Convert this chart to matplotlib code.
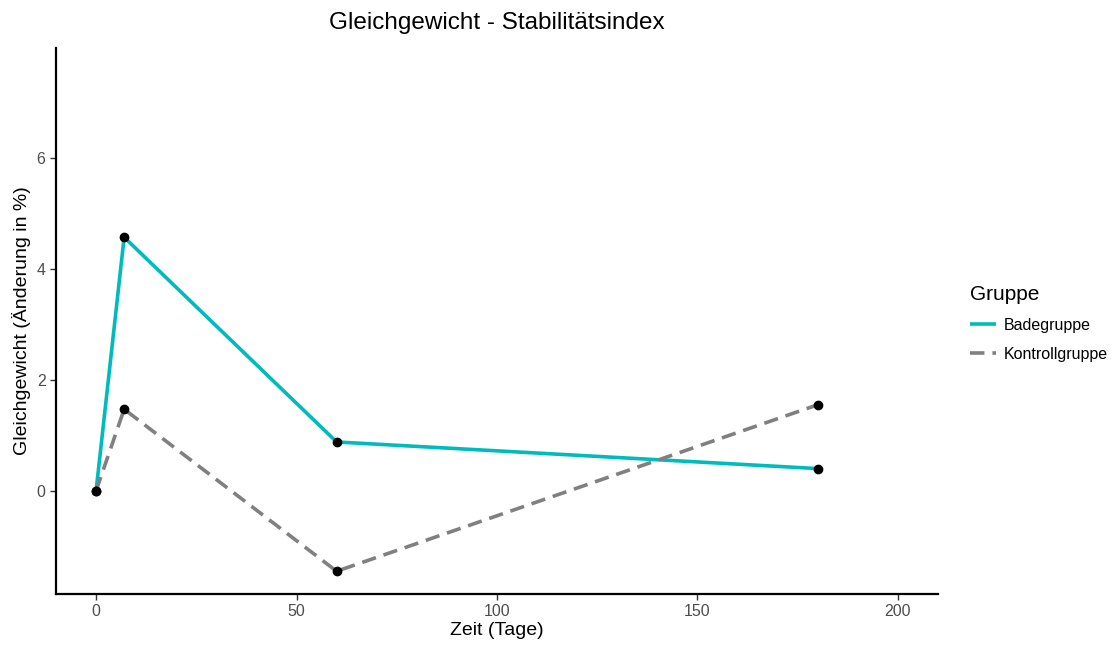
import matplotlib
matplotlib.use("Agg")
import matplotlib.pyplot as plt

plt.rcParams['font.family'] = ['Liberation Sans', 'DejaVu Sans']

days = [0, 7, 60, 180]
bade = [0.0, 4.57, 0.88, 0.40]
kontroll = [0.0, 1.47, -1.45, 1.55]
groups = ["Badegruppe", "Kontrollgruppe"]
xticks = [0, 50, 100, 150, 200]
yticks = [0, 2, 4, 6]

W, H = 1117, 648
fig = plt.figure(figsize=(W / 100, H / 100), dpi=100)
ax = fig.add_axes([56 / W, 1 - 594 / H, (938 - 56) / W, (594 - 48) / H])

ax.plot(days, bade, color="#00BBBB", lw=2.6, solid_capstyle="butt", label=groups[0])
ax.plot(days, kontroll, color="#808080", lw=2.6, ls=(0, (4, 2.2)), label=groups[1])
ax.scatter(days, bade, color="black", s=36, zorder=5)
ax.scatter(days, kontroll, color="black", s=36, zorder=5)

ax.set_xlim(-10, 210)
ax.set_ylim(-1.86, 7.98)
ax.set_xticks(xticks)
ax.set_yticks(yticks)
for s in ["top", "right"]:
    ax.spines[s].set_visible(False)
for s in ["left", "bottom"]:
    ax.spines[s].set_linewidth(1.6)
ax.tick_params(colors="#333333", labelsize=11.5, length=4, width=1)
for lab in ax.get_xticklabels() + ax.get_yticklabels():
    lab.set_color("#4D4D4D")

ax.set_xlabel("Zeit (Tage)", fontsize=14, labelpad=2)
ax.set_ylabel("Gleichgewicht (Änderung in %)", fontsize=14, labelpad=4)
fig.suptitle("Gleichgewicht - Stabilitätsindex", x=(56 + 938) / 2 / W, y=1 - 12 / H, fontsize=17.5, va="top")

leg = fig.legend(handles=ax.get_lines(), labels=groups, title="Gruppe",
                 loc="upper left", bbox_to_anchor=(956 / W, 1 - 271 / H),
                 frameon=False, fontsize=11.5, title_fontsize=15,
                 handlelength=1.6, handletextpad=0.5, labelspacing=0.85)
leg._legend_box.align = "left"

fig.savefig("out.png", dpi=100)
